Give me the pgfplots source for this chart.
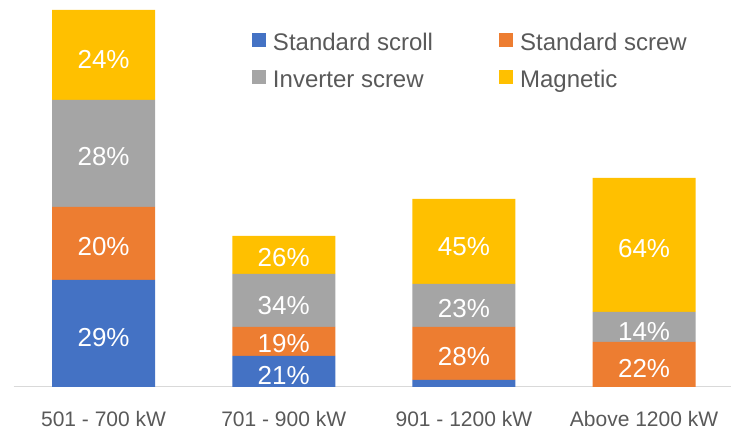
\documentclass[border=0pt]{standalone}
\usepackage{pgfplots}
\pgfplotsset{compat=1.18}
\usepackage{pgfplotstable}
\usepackage{fontspec}
\setmainfont{Liberation Sans}
\definecolor{cblue}{HTML}{4472C4}
\definecolor{corange}{HTML}{ED7D31}
\definecolor{cgray}{HTML}{A5A5A5}
\definecolor{cyellow}{HTML}{FFC000}
\definecolor{ctext}{HTML}{595959}
\definecolor{caxis}{HTML}{D9D9D9}

\pgfplotstableread{
x blue orange gray yellow
0 107 73 107 90
1 31 29 53 38
2 7 53 43 85
3 0 45 30 134
}\bars

\pgfplotstableread{
x y label
0 49.5 29
0 141 20
0 231 28
0 328 24
1 12 21
1 43.5 19
1 82 34
1 129.5 26
2 31 28
2 79 23
2 140.5 45
3 18.5 22
3 56 14
3 138.5 64
}\labels

\pgfplotsset{base/.style={scale only axis, width=717.5pt, height=387pt,
  xmin=-0.5, xmax=3.4824, ymin=0, ymax=387}}

\begin{document}
\begin{tikzpicture}
\begin{axis}[base, name=ax, ybar stacked, bar width=103pt,
  axis x line*=bottom, axis y line=none,
  x axis line style={draw=caxis, line width=1pt},
  xtick={0,1,2,3},
  xticklabels={501 - 700 kW, 701 - 900 kW, 901 - 1200 kW, Above 1200 kW},
  major tick length=0pt,
  xticklabel style={anchor=base, yshift=-40pt, font=\fontsize{21}{25}\selectfont, text=ctext, inner sep=0pt},
  legend columns=2,
  legend cell align=left,
  legend style={draw=none, fill=none, at={(rel axis cs:0.3324,0.917)}, anchor=north west,
    inner sep=0pt, outer sep=0pt,
    font=\fontsize{24}{28}\selectfont, text=ctext,
    nodes={inner sep=0pt, text height=18pt, text depth=5pt},
    column sep=7pt, row sep=14pt,
    /tikz/every even column/.append style={column sep=66pt}},
  legend image code/.code={\fill[#1] (0pt,-3pt) rectangle (14pt,11pt);},
]
\addplot[fill=cblue, draw=none] table[x=x,y=blue]{\bars};
\addplot[fill=corange, draw=none] table[x=x,y=orange]{\bars};
\addplot[fill=cgray, draw=none] table[x=x,y=gray]{\bars};
\addplot[fill=cyellow, draw=none] table[x=x,y=yellow]{\bars};
\legend{Standard scroll, Standard screw, Inverter screw, Magnetic}
\end{axis}
\begin{axis}[base, at={(ax.south west)}, anchor=south west, hide axis]
\addplot[draw=none, mark=none, nodes near coords={\pgfplotspointmeta\%},
  point meta=explicit symbolic,
  nodes near coords style={anchor=center, inner sep=0pt, text depth=0pt, text=white,
    font=\fontsize{26}{30}\selectfont}]
  table[x=x,y=y,meta=label]{\labels};
\end{axis}
\pgfresetboundingbox
\path[use as bounding box] ([xshift=-13.5pt,yshift=-46pt]ax.south west) rectangle (ax.north east);
\end{tikzpicture}
\end{document}
